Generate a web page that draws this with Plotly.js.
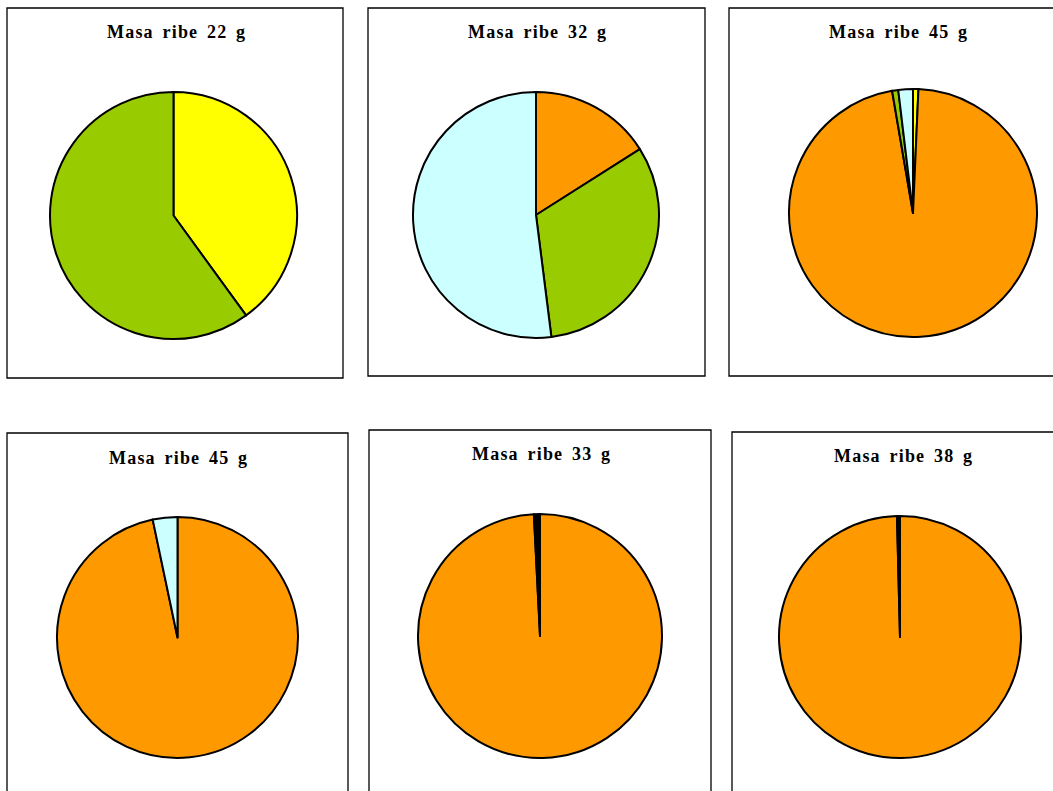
<!DOCTYPE html>
<html>
<head>
<meta charset="utf-8">
<script src="https://cdn.plot.ly/plotly-3.0.1.min.js"></script>
<style>
  html, body { margin: 0; padding: 0; background: #ffffff; }
  #chart { width: 1053px; height: 791px; }
  .annotation-text { letter-spacing: 1.2px; word-spacing: 3px; }
</style>
</head>
<body>
<div id="chart"></div>
<script>
// Fish mass (g) for each of the six panels
const fishMass = [22, 32, 45, 45, 33, 38];

// Category names and fills, in the order the slices run clockwise from 12 o'clock
const categories = ['Kategorija A', 'Kategorija B', 'Kategorija C', 'Kategorija D', 'Kategorija E'];
const categoryColors = ['#FFFF00', '#FF9900', '#99CC00', '#CCFFFF', '#000000'];

// Share (%) of each category, one entry per panel
const shareA = [40, 0, 0.7, 0, 0, 0];
const shareB = [0, 16, 96.6, 96.7, 99.2, 99.6];
const shareC = [60, 32, 0.8, 0, 0, 0];
const shareD = [0, 52, 1.9, 3.3, 0, 0];
const shareE = [0, 0, 0, 0, 0.8, 0.4];

const W = 1053, H = 791;

// Panel frames in pixels: [left, top, right, bottom]
const frames = [
  [7, 8, 343, 378],
  [368, 8, 705, 376],
  [729, 8, 1062, 376],
  [7, 433, 348, 800],
  [369, 430, 711, 800],
  [732, 432, 1062, 800]
];
// Pie centres and radii in pixels: [cx, cy, r]
const pies = [
  [173.5, 215.5, 123.5],
  [536, 215, 123],
  [913, 213, 124],
  [177.5, 637.5, 120.5],
  [540, 636, 122],
  [900, 637, 121]
];
// Title centres in pixels: [x, y]
const titlePos = [
  [176.5, 32],
  [537.5, 32],
  [898.5, 32],
  [178.5, 458],
  [541, 454],
  [903, 456]
];

const fx = x => x / W;
const fy = y => 1 - y / H;

const shares = [shareA, shareB, shareC, shareD, shareE];
const traces = [];
const shapes = [];
const annotations = [];

fishMass.forEach((m, i) => {
  const labels = [], values = [], colors = [];
  shares.forEach((s, k) => {
    if (s[i] > 0) {
      labels.push(categories[k]);
      values.push(s[i]);
      colors.push(categoryColors[k]);
    }
  });
  const [cx, cy, r] = pies[i];
  traces.push({
    type: 'pie',
    labels: labels,
    values: values,
    sort: false,
    direction: 'clockwise',
    rotation: 0,
    textinfo: 'none',
    hoverinfo: 'label+percent',
    marker: { colors: colors, line: { color: '#000000', width: 2 } },
    domain: { x: [fx(cx - r), fx(cx + r)], y: [fy(cy + r), fy(cy - r)] },
    showlegend: false
  });

  const [l, t, rr, b] = frames[i];
  shapes.push({
    type: 'rect', xref: 'paper', yref: 'paper',
    x0: fx(l), x1: fx(rr), y0: fy(b), y1: fy(t),
    line: { color: '#000000', width: 1.3 },
    fillcolor: 'rgba(0,0,0,0)',
    layer: 'below'
  });

  annotations.push({
    xref: 'paper', yref: 'paper',
    x: fx(titlePos[i][0]), y: fy(titlePos[i][1]),
    xanchor: 'center', yanchor: 'middle',
    showarrow: false,
    text: '<b>Masa ribe ' + m + ' g</b>',
    font: { family: 'Liberation Serif, Times New Roman, serif', size: 18, color: '#000000' }
  });
});

const layout = {
  width: W,
  height: H,
  margin: { l: 0, r: 0, t: 0, b: 0 },
  paper_bgcolor: '#ffffff',
  plot_bgcolor: '#ffffff',
  shapes: shapes,
  annotations: annotations,
  showlegend: false
};

Plotly.newPlot('chart', traces, layout, { displayModeBar: false, staticPlot: true });
</script>
</body>
</html>
